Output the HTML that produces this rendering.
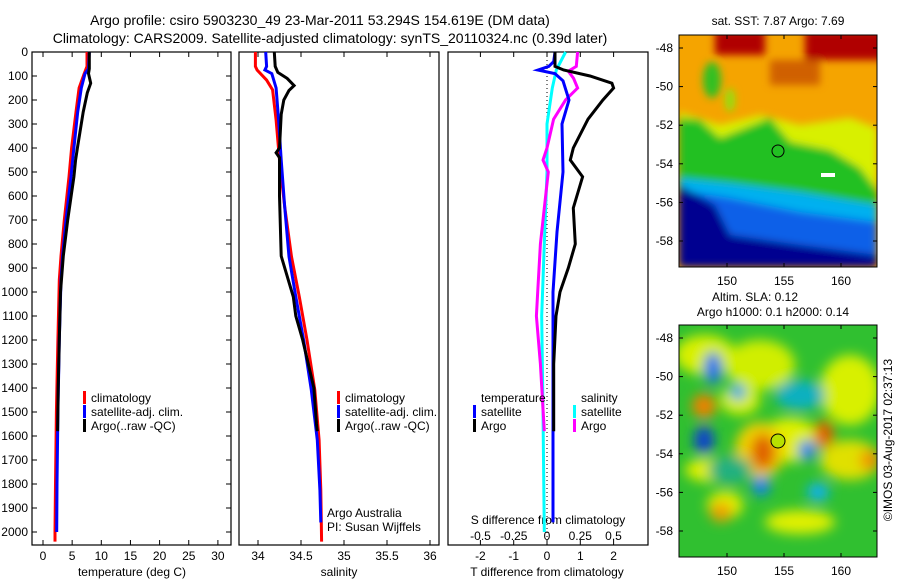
<!DOCTYPE html>
<html><head><meta charset="utf-8"><style>
html,body{margin:0;padding:0;background:#fff;}
svg{display:block;font-family:"Liberation Sans",sans-serif;}
</style></head><body>
<svg id="fig" width="900" height="580" viewBox="0 0 900 580" xmlns="http://www.w3.org/2000/svg">
<defs>
<filter id="b1" filterUnits="userSpaceOnUse" x="660" y="20" width="240" height="270"><feGaussianBlur stdDeviation="4"/></filter>
<filter id="b2" filterUnits="userSpaceOnUse" x="660" y="310" width="240" height="270"><feGaussianBlur stdDeviation="6"/></filter>
<clipPath id="c1"><rect x="679" y="35" width="198" height="232"/></clipPath>
<clipPath id="c2"><rect x="679" y="325" width="198" height="232"/></clipPath>
</defs>
<text x="320" y="25" font-size="14" text-anchor="middle">Argo profile: csiro 5903230_49 23-Mar-2011 53.294S 154.619E (DM data)</text>
<text x="330" y="43" font-size="14" text-anchor="middle">Climatology: CARS2009. Satellite-adjusted climatology: synTS_20110324.nc (0.39d later)</text>

<g clip-path="url(#c1)">
<rect x="679" y="35" width="198" height="232" fill="#f5a400"/>
<g filter="url(#b1)">
<rect x="715" y="30" width="50" height="25" fill="#b00000"/>
<rect x="805" y="30" width="80" height="30" fill="#b00000"/>
<rect x="770" y="60" width="50" height="25" fill="#d06000"/>
<ellipse cx="712" cy="80" rx="9" ry="18" fill="#30c020"/>
<ellipse cx="730" cy="100" rx="5" ry="12" fill="#90e010"/>
<path d="M679 112 L720 125 L760 115 L800 125 L850 118 L877 128 L877 200 L679 200 Z" fill="#d8f000"/>
<path d="M679 118 L700 120 L720 138 L770 118 L790 142 L830 150 L860 168 L877 190 L877 210 L679 210 Z" fill="#20c020"/>
<path d="M679 178 L730 183 L800 192 L877 205 L877 240 L679 240 Z" fill="#00b0f0"/>
<path d="M679 190 L730 198 L800 212 L877 222 L877 267 L679 267 Z" fill="#1060e8"/>
<path d="M679 185 L715 205 L730 235 L800 245 L877 255 L877 267 L679 267 Z" fill="#000090"/>
</g>
</g>
<rect x="679" y="35" width="198" height="232" fill="none" stroke="#000"/>
<circle cx="778" cy="151" r="6" fill="none" stroke="#000"/>
<rect x="821" y="173" width="14" height="4" fill="#fff"/>
<text x="778" y="25" font-size="12" text-anchor="middle">sat. SST: 7.87 Argo: 7.69</text>

<g clip-path="url(#c2)">
<rect x="679" y="325" width="198" height="232" fill="#30c030"/>
<g filter="url(#b2)">
<ellipse cx="705" cy="355" rx="30" ry="20" fill="#d8f000"/>
<ellipse cx="760" cy="365" rx="35" ry="25" fill="#d0ee00"/>
<ellipse cx="850" cy="390" rx="30" ry="35" fill="#d8f000"/>
<ellipse cx="740" cy="400" rx="20" ry="15" fill="#d8f000"/>
<ellipse cx="790" cy="440" rx="30" ry="22" fill="#e0f000"/>
<ellipse cx="760" cy="450" rx="25" ry="28" fill="#f0d000"/>
<ellipse cx="850" cy="460" rx="30" ry="20" fill="#e0e000"/>
<ellipse cx="710" cy="470" rx="25" ry="12" fill="#e0f000"/>
<ellipse cx="800" cy="522" rx="35" ry="12" fill="#e0f000"/>
<ellipse cx="725" cy="505" rx="18" ry="14" fill="#e0f000"/>
<ellipse cx="730" cy="470" rx="22" ry="14" fill="#20b080"/>
<ellipse cx="800" cy="395" rx="25" ry="15" fill="#10b0c0"/>
<ellipse cx="704" cy="406" rx="12" ry="12" fill="#f08000"/>
<ellipse cx="763" cy="452" rx="12" ry="18" fill="#e06000"/>
<ellipse cx="824" cy="434" rx="10" ry="14" fill="#e06000"/>
<ellipse cx="870" cy="460" rx="10" ry="10" fill="#f09000"/>
<ellipse cx="721" cy="512" rx="11" ry="10" fill="#f0a000"/>
<ellipse cx="713" cy="368" rx="9" ry="16" fill="#1070f0"/>
<ellipse cx="704" cy="440" rx="10" ry="14" fill="#1040d0"/>
<ellipse cx="761" cy="486" rx="9" ry="10" fill="#1080f0"/>
<ellipse cx="807" cy="450" rx="9" ry="10" fill="#1080f0"/>
<ellipse cx="818" cy="492" rx="11" ry="9" fill="#10b0f0"/>
<ellipse cx="738" cy="392" rx="8" ry="8" fill="#10a0f0"/>
</g>
</g>
<rect x="679" y="325" width="198" height="232" fill="none" stroke="#000"/>
<circle cx="778" cy="441" r="7" fill="#b8e000" stroke="#000"/>
<text x="755" y="301" font-size="12" text-anchor="middle">Altim. SLA: 0.12</text>
<text x="773" y="316" font-size="12" text-anchor="middle">Argo h1000: 0.1 h2000: 0.14</text>
<text transform="translate(892,440) rotate(-90)" font-size="12" text-anchor="middle">©IMOS 03-Aug-2017 02:37:13</text>
<g id="axes"></g>
</svg>
<script>
// ---- data ----
var tDepth = [0,60,95,150,250,400,520,700,850,950,1200,1500,1800,2000,2040];
var tClim  = [7.55,7.55,7.0,6.2,5.66,4.9,4.46,3.66,3.09,2.8,2.55,2.3,2.15,2.05,2.05];
var tSatD  = [0,70,90,150,250,400,520,700,850,950,1200,1500,1800,2000];
var tSat   = [7.95,7.8,7.2,6.57,5.95,5.3,4.8,3.94,3.37,3.09,2.8,2.55,2.4,2.35];
var tArgoD = [0,70,90,130,170,250,400,450,520,700,850,1000,1200,1400,1580];
var tArgo  = [7.95,7.95,7.8,8.18,7.6,6.9,5.9,5.6,5.3,4.23,3.48,3.0,2.8,2.6,2.5];

var sClimD = [0,60,75,117,158,283,450,645,853,1020,1200,1408,1617,1825,2040];
var sClim  = [33.97,33.97,33.99,34.10,34.17,34.21,34.25,34.31,34.39,34.48,34.57,34.66,34.71,34.73,34.74];
var sSatD  = [0,60,75,90,150,283,450,645,853,1020,1200,1408,1617,1825,1960];
var sSat   = [34.09,34.10,34.08,34.16,34.21,34.24,34.27,34.31,34.36,34.44,34.53,34.62,34.69,34.72,34.73];
var sArgoD = [0,60,85,110,140,160,200,260,400,420,440,600,850,1020,1100,1200,1400,1550,1580];
var sArgo  = [34.19,34.20,34.23,34.34,34.42,34.36,34.30,34.27,34.25,34.21,34.25,34.25,34.27,34.41,34.44,34.52,34.65,34.68,34.69];

var dTSatD = [0,40,60,75,90,120,200,300,500,750,1000,1500,1960];
var dTSat  = [0.24,0.2,0.05,-0.27,0.24,0.48,0.66,0.45,0.48,0.3,0.18,0.18,0.18];
var dTArgoD= [0,60,75,100,130,150,200,280,400,450,520,650,800,900,1000,1100,1300,1580];
var dTArgo = [0.24,0.24,0.5,1.29,1.95,2.0,1.68,1.23,0.79,0.7,1.07,0.79,0.85,0.64,0.39,0.27,0.2,0.2];
var dSSatD = [0,75,150,300,500,800,1100,1500,2000];
var dSSat  = [0.14,0.07,0.04,0.0,0.0,-0.02,-0.04,-0.03,-0.02];
var dSArgoD= [0,60,80,110,150,200,280,400,450,500,650,800,1000,1100,1300,1580];
var dSArgo = [0.23,0.22,0.16,0.2,0.23,0.14,0.05,0.0,-0.03,0.01,-0.02,-0.05,-0.07,-0.08,-0.05,-0.02];

var depthTicks = [0,100,200,300,400,500,600,700,800,900,1000,1100,1200,1300,1400,1500,1600,1700,1800,1900,2000];
var tempTicks = [0,5,10,15,20,25,30];
var salTicks = ["34","34.5","35","35.5","36"];
var dTTicks = [-2,-1,0,1,2];
var dSTicks = ["-0.5","-0.25","0","0.25","0.5"];

// ---- axes functions ----
var Y0=52, Y1=545;
function yD(d){return 52 + d*0.24;}
function xT(t){return 43 + t*5.83;}
function xS(s){return 258 + (s-34)*86;}
function xDT(v){return 547 + v*33.3;}
function xDS(v){return 547 + v*133;}

var NS='http://www.w3.org/2000/svg';
var g=document.getElementById('axes');
function mk(tag,attrs,parent){var e=document.createElementNS(NS,tag);for(var k in attrs)e.setAttribute(k,attrs[k]);(parent||g).appendChild(e);return e;}
function txt(x,y,s,anchor,size,name){var t=mk('text',{x:x,y:y,'font-size':size||12,'text-anchor':anchor||'middle'});t.textContent=s;


return t;}
function line(xs,ds,fx,color,name){
  var pts=[];for(var i=0;i<xs.length;i++)pts.push(fx(xs[i]).toFixed(1)+','+yD(ds[i]).toFixed(1));
  var p=mk('polyline',{points:pts.join(' '),fill:'none',stroke:color,'stroke-width':3,'stroke-linejoin':'miter'});
  
  
}
function frame(x0,x1,name){
  var r=mk('rect',{x:x0,y:Y0,width:x1-x0,height:Y1-Y0,fill:'none',stroke:'#000','stroke-width':1.2});
  
  
}
function xticks(vals,fx,y,labelY,name){
  for(var i=0;i<vals.length;i++){var x=fx(parseFloat(vals[i]));
    mk('line',{x1:x,x2:x,y1:Y1,y2:Y1-5,stroke:'#000'});
    mk('line',{x1:x,x2:x,y1:Y0,y2:Y0+5,stroke:'#000'});
    if(labelY)txt(x,labelY,String(vals[i]),'middle',12,name);}
}
frame(32,231,'temperature-panel');
frame(239,439,'salinity-panel');
frame(448,648,'difference-panel');
for(var i=0;i<depthTicks.length;i++){var y=yD(depthTicks[i]);
  mk('line',{x1:32,x2:37,y1:y,y2:y,stroke:'#000'});
  mk('line',{x1:231,x2:226,y1:y,y2:y,stroke:'#000'});
  txt(28,y+4,String(depthTicks[i]),'end',12,'depth-tick-label');
}
xticks(tempTicks,xT,0,560,'temperature-tick-label');
xticks(salTicks,xS,0,560,'salinity-tick-label');
for(var i=0;i<dTTicks.length;i++){var x=xDT(dTTicks[i]);
  mk('line',{x1:x,x2:x,y1:Y1,y2:Y1-5,stroke:'#000'});
  mk('line',{x1:x,x2:x,y1:Y0,y2:Y0+5,stroke:'#000'});
  txt(x,560,String(dTTicks[i]),'middle',12,'t-diff-tick-label');}
for(var i=0;i<dSTicks.length;i++){txt(xDS(parseFloat(dSTicks[i])),540,dSTicks[i],'middle',12,'s-diff-tick-label');}
txt(132,576,'temperature (deg C)','middle',12,'x-axis-title-temperature');
txt(339,576,'salinity','middle',12,'x-axis-title-salinity');
txt(547,576,'T difference from climatology','middle',12,'x-axis-title-t-diff');
txt(548,524,'S difference from climatology','middle',12,'s-diff-axis-title');
var zl=mk('line',{x1:xDT(0),x2:xDT(0),y1:Y0,y2:Y1,stroke:'#000','stroke-dasharray':'1,3'});


line(tClim,tDepth,xT,'#ff0000','temp-climatology-line');
line(tSat,tSatD,xT,'#0000ff','temp-satellite-line');
line(tArgo,tArgoD,xT,'#000000','temp-argo-line');
line(sClim,sClimD,xS,'#ff0000','sal-climatology-line');
line(sSat,sSatD,xS,'#0000ff','sal-satellite-line');
line(sArgo,sArgoD,xS,'#000000','sal-argo-line');
line(dSSat,dSSatD,xDS,'#00ffff','s-diff-satellite-line');
line(dSArgo,dSArgoD,xDS,'#ff00ff','s-diff-argo-line');
line(dTSat,dTSatD,xDT,'#0000ff','t-diff-satellite-line');
line(dTArgo,dTArgoD,xDT,'#000000','t-diff-argo-line');
function leg(x,y,color,label,name){
  var r=mk('rect',{x:x,y:y-11,width:3,height:13,fill:color});
  
  
  txt(x+8,y,label,'start',12,name);
}
leg(83,402,'#ff0000','climatology','legend-climatology');
leg(83,416,'#0000ff','satellite-adj. clim.','legend-satellite');
leg(83,430,'#000000','Argo(..raw -QC)','legend-argo');
leg(337,402,'#ff0000','climatology','legend-climatology-2');
leg(337,416,'#0000ff','satellite-adj. clim.','legend-satellite-2');
leg(337,430,'#000000','Argo(..raw -QC)','legend-argo-2');
txt(481,402,'temperature','start',12,'legend-temperature-heading');
txt(581,402,'salinity','start',12,'legend-salinity-heading');
leg(473,416,'#0000ff','satellite','legend-t-satellite');
leg(473,430,'#000000','Argo','legend-t-argo');
leg(573,416,'#00ffff','satellite','legend-s-satellite');
leg(573,430,'#ff00ff','Argo','legend-s-argo');
txt(327,517,'Argo Australia','start',12,'institution-label');
txt(327,531,'PI: Susan Wijffels','start',12,'pi-label');
var mapLon=[150,155,160], mapLat=[-48,-50,-52,-54,-56,-58];
function lonX(l){return 727+(l-150)*11.4;}
function mapAxes(top,latY0,lab){
  for(var i=0;i<mapLon.length;i++){var x=lonX(mapLon[i]);
    mk('line',{x1:x,x2:x,y1:top+232,y2:top+228,stroke:'#000'});
    mk('line',{x1:x,x2:x,y1:top,y2:top+4,stroke:'#000'});
    txt(x,top+250,String(mapLon[i]),'middle',12,lab+'-lon-tick');}
  for(var i=0;i<mapLat.length;i++){var y=latY0+(-48-mapLat[i])*19.3;
    mk('line',{x1:679,x2:683,y1:y,y2:y,stroke:'#000'});
    mk('line',{x1:877,x2:873,y1:y,y2:y,stroke:'#000'});
    txt(673,y+4,String(mapLat[i]),'end',12,lab+'-lat-tick');}
}
mapAxes(35,48,'sst');
mapAxes(325,338,'sla');
</script>
</body></html>
